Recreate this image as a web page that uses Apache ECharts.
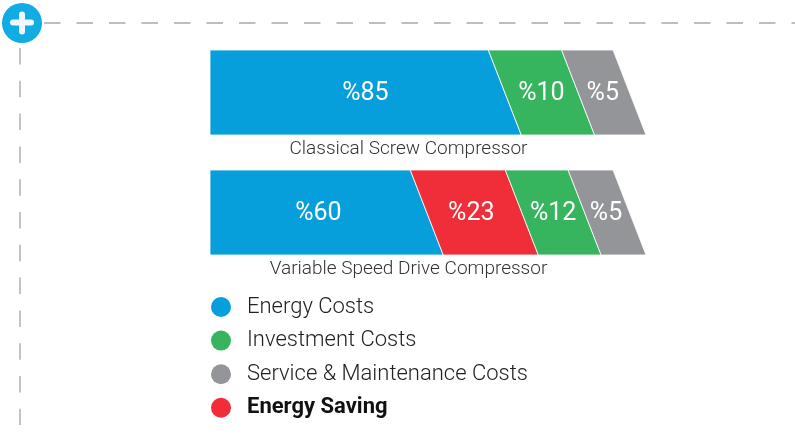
<!DOCTYPE html>
<html><head><meta charset="utf-8">
<style>html,body{margin:0;padding:0;background:#fff}#c{width:795px;height:438px}</style>
<script src="https://cdn.jsdelivr.net/npm/echarts@6/dist/echarts.min.js"></script>
</head><body><div id="c"></div>
<script>
const categories = ['Classical Screw Compressor', 'Variable Speed Drive Compressor'];
const seriesNames = ['Energy Costs', 'Investment Costs', 'Service & Maintenance Costs', 'Energy Saving'];
// printed percentages
const energyValues = [85, 60];
const investmentValues = [10, 12];
const serviceValues = [5, 5];
const savingValues = [null, 23];
// segment lengths as drawn in the picture (share of the bar, the picture is not to scale)
const energyDrawn = [71.4, 53.5];
const investmentDrawn = [16.8, 14.4];
const serviceDrawn = [11.8, 10.3];
const savingDrawn = [0, 21.8];

const colors = {'Energy Costs':'#079fdb','Investment Costs':'#36b55e','Service & Maintenance Costs':'#939598','Energy Saving':'#ef2e39'};
const FONT = 'Roboto';
const SLANT = 33, BAR_H = 85;
const labelNudge = {85: 8, 23: -3, 5: -1};

// stacking order along each bar: energy, saving, investment, service
const stackOrder = [
  [seriesNames[0], energyValues, energyDrawn],
  [seriesNames[3], savingValues, savingDrawn],
  [seriesNames[1], investmentValues, investmentDrawn],
  [seriesNames[2], serviceValues, serviceDrawn]
];
const running = categories.map(() => 0);
const customSeries = stackOrder.map(([name, vals, drawn]) => {
  const data = [];
  categories.forEach((c, i) => {
    if (vals[i] == null) return;
    data.push([running[i], running[i] + drawn[i], i, vals[i]]);
    running[i] += drawn[i];
  });
  return {
    type: 'custom', name, coordinateSystem: 'cartesian2d',
    itemStyle: {color: colors[name]},
    encode: {x: [0, 1], y: 2},
    data,
    renderItem(params, api) {
      const a = api.coord([api.value(0), api.value(2)]);
      const b = api.coord([api.value(1), api.value(2)]);
      const top = a[1] - BAR_H / 2, bot = a[1] + BAR_H / 2;
      const x0 = a[0], x1 = b[0];
      const first = api.value(0) === 0;
      const tl = first ? x0 : x0 - SLANT;
      const tr = x1 - SLANT;
      const v = api.value(3);
      return {type: 'group', children: [
        {type: 'polygon', shape: {points: [[tl, top], [tr, top], [x1, bot], [x0, bot]]},
         style: {fill: colors[name], stroke: '#fff', lineWidth: 0.8}},
        {type: 'text', style: {x: (tl + tr + x0 + x1) / 4 + (labelNudge[v] || 0), y: a[1] + 1, text: '%' + v,
          fill: '#fff', font: '400 25px ' + FONT, textAlign: 'center', textVerticalAlign: 'middle'}}
      ]};
    }
  };
});
// compressor names under the bars
customSeries.push({
  type: 'custom', name: 'names', coordinateSystem: 'cartesian2d', silent: true,
  data: categories.map((c, i) => [50, i]),
  encode: {x: 0, y: 1},
  renderItem(params, api) {
    const p = api.coord([api.value(0), api.value(1)]);
    return {type: 'text', style: {x: p[0] - 19.5, y: p[1] + BAR_H / 2 + 14, text: categories[params.dataIndex],
      fill: '#333', font: '300 19px ' + FONT, textAlign: 'center', textVerticalAlign: 'middle'}};
  }
});

const chart = echarts.init(document.getElementById('c'), null, {renderer: 'canvas'});
chart.setOption({
  animation: false,
  backgroundColor: '#fff',
  grid: {left: 210, width: 436, top: 32.5, height: 240},
  xAxis: {type: 'value', min: 0, max: 100, show: false},
  yAxis: {type: 'category', data: categories, inverse: true, show: false},
  legend: {
    orient: 'vertical', left: 206, top: 291, icon: 'circle', itemWidth: 20, itemHeight: 20, itemGap: 11.6,
    selectedMode: false,
    textStyle: {fontFamily: FONT, fontSize: 22, fontWeight: 300, lineHeight: 20, color: '#222', padding: [0, 0, 0, 11]},
    data: [
      {name: seriesNames[0]}, {name: seriesNames[1]}, {name: seriesNames[2]},
      {name: seriesNames[3], textStyle: {fontWeight: 'bold', color: '#111', fontFamily: FONT, fontSize: 22, lineHeight: 20, padding: [0, 0, 0, 11]}}
    ]
  },
  graphic: [
    {type: 'line', silent: true, shape: {x1: 44, y1: 23, x2: 795, y2: 23}, style: {stroke: '#a8a8a8', lineWidth: 1.5, lineDash: [16.5, 16]}},
    {type: 'line', silent: true, shape: {x1: 20, y1: 48, x2: 20, y2: 425}, style: {stroke: '#b0b0b0', lineWidth: 1.5, lineDash: [16.5, 16.3]}},
    {type: 'circle', silent: true, shape: {cx: 22, cy: 23, r: 20}, style: {fill: '#12ace4'}},
    {type: 'rect', silent: true, shape: {x: 10, y: 19.5, width: 24, height: 6, r: 3}, style: {fill: '#eef8fc'}},
    {type: 'rect', silent: true, shape: {x: 19, y: 11.5, width: 6, height: 23, r: 3}, style: {fill: '#eef8fc'}}
  ],
  series: customSeries
});
</script></body></html>
